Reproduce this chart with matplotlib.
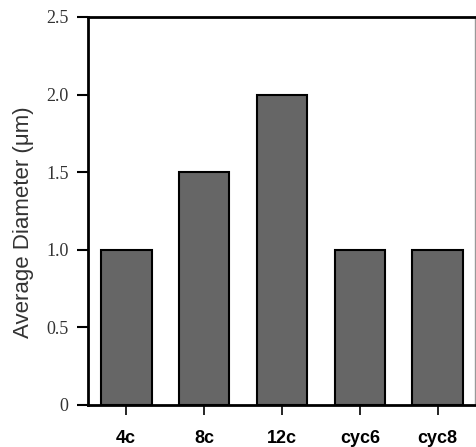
import numpy as np
import matplotlib.pyplot as plt

# data
categories = ['4c', '8c', '12c', 'cyc6', 'cyc8']
diameters = [1.0, 1.5, 2.0, 1.0, 1.0]
ytick_vals = [0, 0.5, 1.0, 1.5, 2.0, 2.5]
ytick_labels = ['0', '0.5', '1.0', '1.5', '2.0', '2.5']

fig = plt.figure(figsize=(4.76, 4.47), dpi=100)
ax = fig.add_axes([0.185, 0.094, 0.813, 0.868])

x = np.arange(len(categories))
ax.bar(x, diameters, width=0.65, color='#666666', edgecolor='black', linewidth=1.5, zorder=2)

ax.set_xlim(-0.49, 4.48)
ax.set_ylim(0, 2.5)

ax.set_xticks(x)
ax.set_xticklabels(categories, fontfamily='Liberation Sans', fontweight='bold', fontsize=13)
ax.set_yticks(ytick_vals)
ax.set_yticklabels(ytick_labels, fontfamily='Liberation Serif', fontsize=13, color='#333333')

ax.tick_params(axis='y', direction='out', length=8, width=1.5, pad=6)
ax.tick_params(axis='x', direction='out', length=7, width=1.2, pad=11)

ax.set_ylabel('Average Diameter (\u03bcm)', fontfamily='Liberation Sans', fontsize=16,
              color='#333333', labelpad=9)
ax.yaxis.label.set_y(0.47)

for s in ['left', 'bottom', 'top']:
    ax.spines[s].set_linewidth(2)
    ax.spines[s].set_color('black')
ax.spines['right'].set_linewidth(1)
ax.spines['right'].set_color('#999999')

fig.savefig('out.png', dpi=100)
